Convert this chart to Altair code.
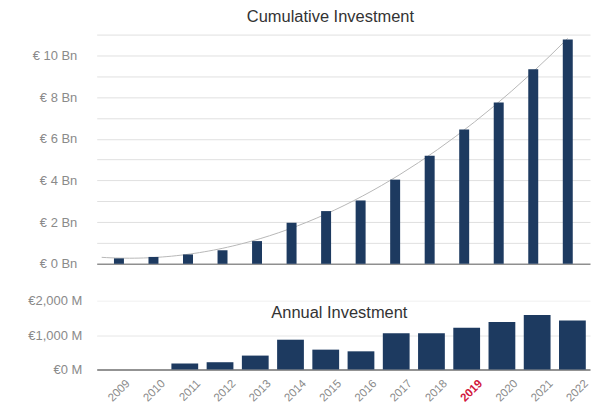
import altair as alt
import pandas as pd

years = [2009, 2010, 2011, 2012, 2013, 2014, 2015, 2016, 2017, 2018, 2019, 2020, 2021, 2022]
cumulative_bn = [0.26, 0.33, 0.45, 0.65, 1.09, 1.97, 2.53, 3.04, 4.04, 5.18, 6.44, 7.74, 9.34, 10.77]
annual_m = [0, 0, 173, 210, 403, 865, 576, 527, 1055, 1055, 1210, 1383, 1585, 1421]

cum_ticks = [0, 1, 2, 3, 4, 5, 6, 7, 8, 9, 10, 11]
ann_ticks = [0, 1000, 2000]

df = pd.DataFrame({"year": years, "cum": cumulative_bn, "annual": annual_m})

FONT = "Liberation Sans"
NAVY = "#1d3a60"
W = 495

top_x = alt.X("year:Q", scale=alt.Scale(domain=[2008.5, 2022.5], nice=False, zero=False), axis=None)
top_y = alt.Y(
    "cum:Q",
    scale=alt.Scale(domain=[0, 11], nice=False),
    axis=alt.Axis(
        values=cum_ticks,
        labelExpr="datum.value % 2 == 0 ? '€ ' + datum.value + ' Bn' : ''",
        title=None, ticks=False, domain=False,
        labelPadding=20, labelColor="#8a8a8a", labelFontSize=13, labelFont=FONT,
        gridColor={"expr": "datum.value == 0 ? '#8f8f8f' : '#e0e0e0'"},
        gridWidth={"expr": "datum.value == 0 ? 1.5 : 1"},
        minExtent=85, maxExtent=85,
    ),
)

bars_top = alt.Chart(df).mark_bar(size=10, color=NAVY).encode(x=top_x, y=top_y)
trend = (
    alt.Chart(df)
    .transform_regression("year", "cum", method="poly", order=2, extent=[2008.5, 2022])
    .mark_line(color="#b8b8b8", strokeWidth=1)
    .encode(x=top_x, y=top_y)
)

top = alt.layer(trend, bars_top).properties(
    width=W, height=230,
    title=alt.TitleParams("Cumulative Investment", fontSize=16.5, font=FONT, fontWeight="normal",
                          color="#333333", offset=9, dx=-13),
)

bottom = alt.Chart(df).mark_bar(color=NAVY).encode(
    x=alt.X(
        "year:O",
        scale=alt.Scale(paddingInner=0.24, paddingOuter=0.12),
        axis=alt.Axis(
            title=None, labelAngle=-45, ticks=False, domain=False,
            labelPadding=8, labelOffset=10, labelFontSize=11.5, labelFont=FONT,
            labelColor={"expr": "datum.label == '2019' ? '#d2183c' : '#8a8a8a'"},
            labelFontWeight={"expr": "datum.label == '2019' ? 'bold' : 'normal'"},
        ),
    ),
    y=alt.Y(
        "annual:Q",
        scale=alt.Scale(domain=[0, 2000], nice=False),
        axis=alt.Axis(
            values=ann_ticks,
            labelExpr="'€' + format(datum.value, ',') + ' M'",
            title=None, ticks=False, domain=False,
            labelPadding=15, labelColor="#8a8a8a", labelFontSize=13, labelFont=FONT,
            gridColor={"expr": "datum.value == 0 ? '#6f6f6f' : (datum.value == 1000 ? '#e6e6e6' : '#f0f0f0')"},
            gridWidth={"expr": "datum.value == 0 ? 1.5 : 1"},
            minExtent=85, maxExtent=85,
        ),
    ),
).properties(
    width=W, height=69,
    title=alt.TitleParams("Annual Investment", fontSize=16.5, font=FONT, fontWeight="normal",
                          color="#333333", offset=-27, dx=-4),
)

chart = (
    alt.vconcat(top, bottom, spacing=24)
    .properties(padding={"left": 4, "top": 0, "right": 5, "bottom": 0})
    .configure_view(strokeWidth=0)
)

chart.save("out.html", embed_options={"renderer": "svg", "actions": False})
